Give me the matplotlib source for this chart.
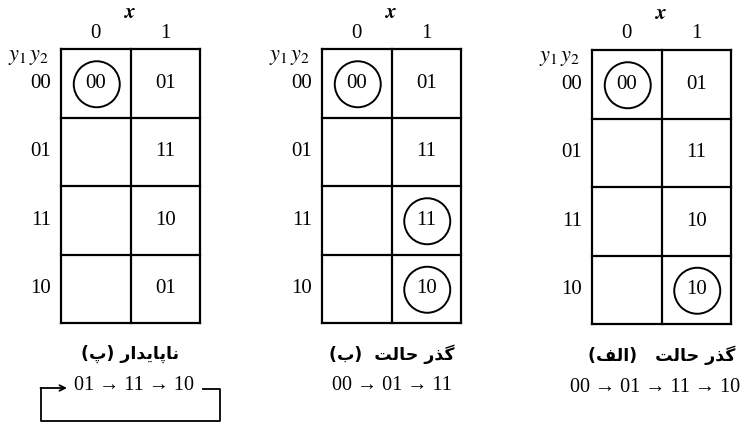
import matplotlib.pyplot as plt
from matplotlib.patches import Circle

plt.rcParams['mathtext.fontset'] = 'stix'

col_labels = ['0', '1']
row_labels = ['00', '01', '11', '10']

# next-state entries per table, [row][col]
cells_c = [['00', '01'], ['', '11'], ['', '10'], ['', '01']]
cells_b = [['00', '01'], ['', '11'], ['', '11'], ['', '10']]
cells_a = [['00', '01'], ['', '11'], ['', '10'], ['', '10']]
stable_c = [(0, 0)]
stable_b = [(0, 0), (2, 1), (3, 1)]
stable_a = [(0, 0), (3, 1)]

# captions (Persian written in visual order with presentation forms)
word_gozar = '\uFE96\uFEDF\uFE8E\uFEA3 \uFEAD\uFEAC\uFB94'
word_napaydar = '\uFEAD\uFE8D\uFEAA\uFBFE\uFE8E\uFB58\uFE8E\uFEE7'
cap_c = '(\uFB56) ' + word_napaydar
cap_b = '(\uFE8F)  ' + word_gozar
cap_a = '(\uFED2\uFEDF\uFE8D)   ' + word_gozar
seq_c = '01 \u2192 11 \u2192 10'
seq_b = '00 \u2192 01 \u2192 11'
seq_a = '00 \u2192 01 \u2192 11 \u2192 10'

serif = ['Liberation Serif', 'DejaVu Serif']
arab = ['DejaVu Sans']

fig = plt.figure(figsize=(7.47, 4.24), dpi=100)
ax = fig.add_axes([0, 0, 1, 1])
ax.set_xlim(0, 747)
ax.set_ylim(424, 0)
ax.axis('off')

W, H = 69.5, 68.5
# x0, y0, cells, circled, caption, sequence, sequence x-shift
tables = [
    (61, 49, cells_c, stable_c, cap_c, seq_c, 3),
    (322, 49, cells_b, stable_b, cap_b, seq_b, 0),
    (592, 50, cells_a, stable_a, cap_a, seq_a, -6),
]

for x0, y0, cells, stable, cap, seq, dx in tables:
    nr, nc = len(row_labels), len(col_labels)
    x1, y1 = x0 + nc * W, y0 + nr * H
    # grid
    for i in range(nr + 1):
        ax.plot([x0, x1], [y0 + i * H, y0 + i * H], color='black', lw=1.6,
                solid_capstyle='projecting')
    for j in range(nc + 1):
        ax.plot([x0 + j * W, x0 + j * W], [y0, y1], color='black', lw=1.6,
                solid_capstyle='projecting')
    # headers
    ax.text(x0 + W, y0 - 37, '$\\boldsymbol{x}$', ha='center', va='center', fontsize=15)
    for j, lab in enumerate(col_labels):
        ax.text(x0 + (j + 0.5) * W, y0 - 16, lab, ha='center', va='center',
                fontsize=15, family=serif)
    ax.text(x0 - 32, y0 + 8, '$y_1\\,y_2$', ha='center', va='center', fontsize=16)
    for i, lab in enumerate(row_labels):
        ax.text(x0 - 10, y0 + (i + 0.5) * H, lab, ha='right', va='center',
                fontsize=15, family=serif)
    # cells
    for i in range(nr):
        for j in range(nc):
            cx, cy = x0 + (j + 0.5) * W, y0 + (i + 0.5) * H
            if cells[i][j]:
                ax.text(cx, cy, cells[i][j], ha='center', va='center',
                        fontsize=15, family=serif)
            if (i, j) in stable:
                ax.add_patch(Circle((cx + 1, cy + 1), 23, fill=False,
                                    color='black', lw=1.4))
    # captions
    xm = x0 + W
    ax.text(xm, y1 + 31, cap, ha='center', va='center', fontsize=12.5,
            family=arab, fontweight='bold')
    ax.text(xm + dx, y1 + 63, seq, ha='center', va='center', fontsize=14.5,
            family=serif)

# loop-back bracket under the unstable sequence
ax.plot([203, 220, 220, 41, 41], [389, 389, 421, 421, 388], color='black', lw=1.3)
ax.annotate('', xy=(67, 388), xytext=(40.5, 388),
            arrowprops=dict(arrowstyle='->', color='black', lw=1.3,
                            shrinkA=0, shrinkB=0))

fig.savefig('out.png', dpi=100)
